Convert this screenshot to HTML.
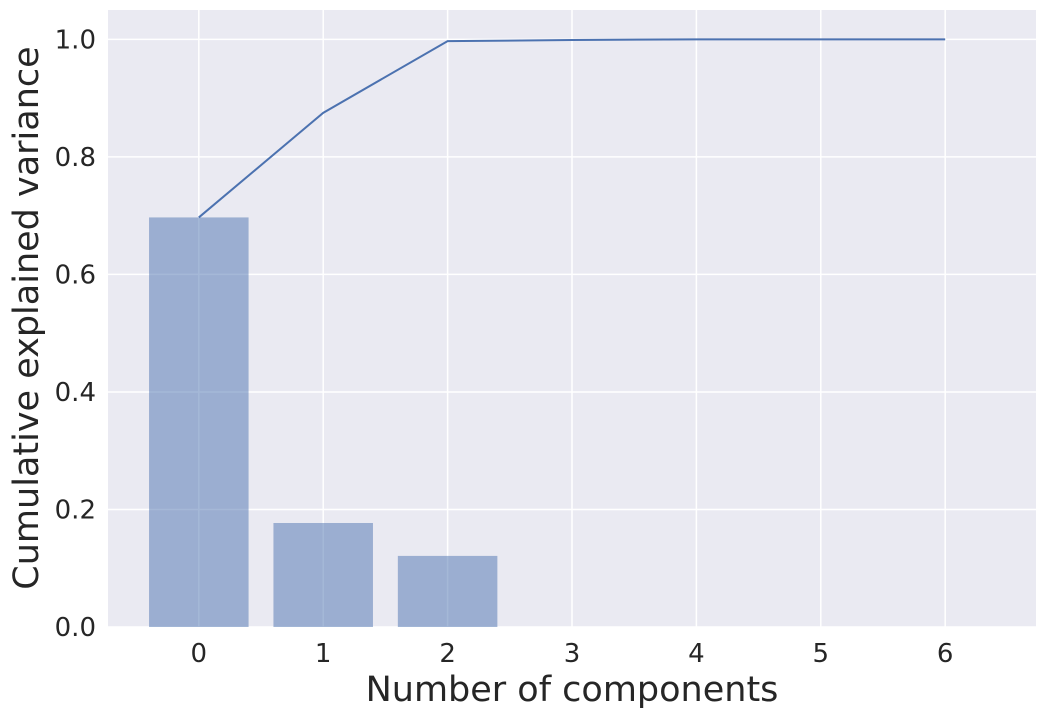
<!DOCTYPE html>
<html><head><meta charset="utf-8"><style>
html,body{margin:0;padding:0;background:#fff;}
svg{display:block;font-family:"DejaVu Sans","Liberation Sans",sans-serif;}
</style></head><body>
<svg id="chart" width="1047" height="716" viewBox="0 0 1047 716" xmlns="http://www.w3.org/2000/svg">
<rect x="108" y="10" width="928" height="617" fill="#eaeaf2"/>
<g id="grid"></g>
<g id="bars"></g>
<g id="line"></g>
<g id="ticks"></g>
<text x="572" y="701" text-anchor="middle" font-size="35" fill="#262626">Number of components</text>
<text transform="translate(38,318) rotate(-90)" text-anchor="middle" font-size="35" fill="#262626">Cumulative explained variance</text>
</svg>
<script>
const components = [0,1,2,3,4,5,6];
const explained = [0.697,0.177,0.121,0.002,0.0005,0.0002,0.0001];
const cumulative = [0.697,0.875,0.997,0.999,1.0,1.0,1.0];
const yTicks = [0,0.2,0.4,0.6,0.8,1.0];
const yTickLabels = ["0.0","0.2","0.4","0.6","0.8","1.0"];
const xTickLabels = ["0","1","2","3","4","5","6"];

const NS="http://www.w3.org/2000/svg";
const X0=108,X1=1036,Y0=627,Y1=10;
const xMin=-0.73,xMax=6.73,yMin=0,yMax=1.05;
const xs=v=>X0+(v-xMin)/(xMax-xMin)*(X1-X0);
const ys=v=>Y0-(v-yMin)/(yMax-yMin)*(Y0-Y1);
function mk(tag,attrs,parent){const e=document.createElementNS(NS,tag);for(const k in attrs)e.setAttribute(k,attrs[k]);document.getElementById(parent).appendChild(e);return e;}

yTicks.forEach((t,i)=>{
  const g=mk('line',{x1:X0,x2:X1,y1:ys(t),y2:ys(t),stroke:'#fff','stroke-width':1.5},'grid');
  
  
  const l=mk('text',{x:X0-12,y:ys(t)+9,'text-anchor':'end','font-size':26,fill:'#262626'},'ticks');
  l.textContent=yTickLabels[i];
  
  
});
components.forEach((c,i)=>{
  const g=mk('line',{x1:xs(c),x2:xs(c),y1:Y1,y2:Y0,stroke:'#fff','stroke-width':1.5},'grid');
  
  
  const l=mk('text',{x:xs(c),y:Y0+35,'text-anchor':'middle','font-size':26,fill:'#262626'},'ticks');
  l.textContent=xTickLabels[i];
  
  
  const h=Y0-ys(explained[i]);
  const b=mk('rect',{x:xs(c-0.4),y:ys(explained[i]),width:xs(c+0.4)-xs(c-0.4),height:h<1.5?0:h,fill:'#4c72b0','fill-opacity':0.5},'bars');
  
  
});
const p=mk('polyline',{points:components.map((c,i)=>xs(c)+','+ys(cumulative[i])).join(' '),fill:'none',stroke:'#4c72b0','stroke-width':2},'line');


</script>
</body></html>
